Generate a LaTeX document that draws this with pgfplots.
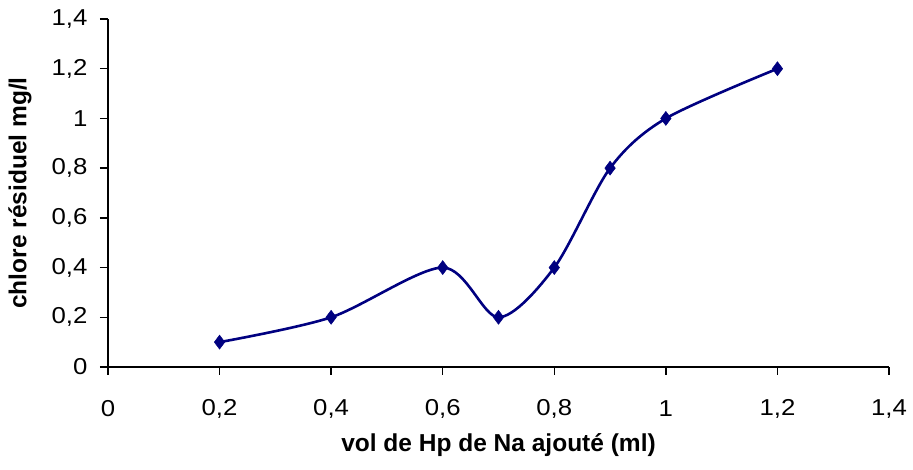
\documentclass[border=0pt]{standalone}
\usepackage{fontspec}
\setmainfont{Liberation Sans}
\newfontfamily\tickfont[FakeStretch=1.12]{Liberation Sans}
\usepackage{pgfplots}
\pgfplotsset{compat=1.18}
\definecolor{navyline}{RGB}{0,0,128}
\begin{document}
\fontsize{19}{23}\selectfont
\begin{tikzpicture}
\useasboundingbox (-108pt,-103pt) rectangle (805pt,367pt);
\begin{axis}[
  at={(0pt,0pt)}, anchor=south west,
  scale only axis, width=781pt, height=348pt,
  xmin=0, xmax=1.4, ymin=0, ymax=1.4,
  axis x line*=bottom, axis y line*=left,
  axis line style={black, line width=1.3pt},
  tick align=outside, major tick length=8pt,
  tick style={black, line width=1.3pt},
  xtick={0,0.2,0.4,0.6,0.8,1,1.2,1.4},
  ytick={0,0.2,0.4,0.6,0.8,1,1.2,1.4},
  /pgf/number format/assume math mode=true,
  /pgf/number format/use comma,
  ticklabel style={font=\tickfont\fontsize{23}{26}\selectfont},
  xticklabel style={anchor=center, yshift=-34pt},
  yticklabel style={anchor=east, xshift=-6pt},
  xlabel={\textbf{vol de Hp de Na ajouté (ml)}},
  ylabel={\textbf{chlore résiduel mg/l}},
  label style={font=\fontsize{24.5}{28}\selectfont},
  xlabel style={at={(axis description cs:0.5,-0.225)}, anchor=center},
  ylabel style={at={(axis description cs:-0.1127,0.5)}, anchor=center, rotate=0},
  clip=false,
]
\addplot[navyline, line width=2.6pt, smooth, tension=0.5, mark=diamond*, mark size=7pt, mark options={fill=navyline, draw=navyline, line width=0.5pt}]
coordinates {(0.2,0.1) (0.4,0.2) (0.6,0.4) (0.7,0.2) (0.8,0.4) (0.9,0.8) (1.0,1.0) (1.2,1.2)};
\end{axis}
\end{tikzpicture}
\end{document}
